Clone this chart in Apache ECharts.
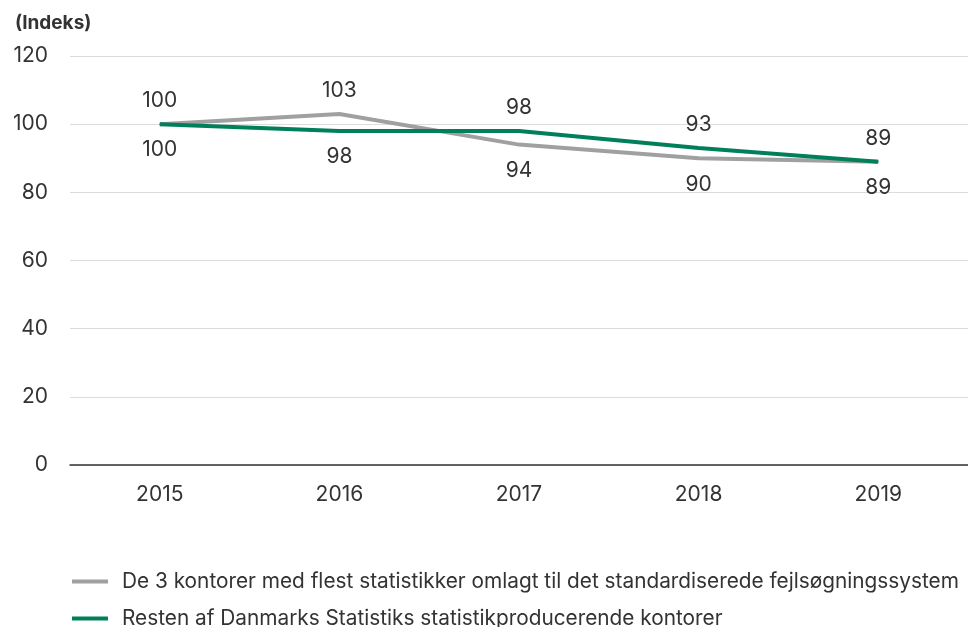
<!DOCTYPE html>
<html><head><meta charset="utf-8">
<script src="https://cdn.jsdelivr.net/npm/echarts@6/dist/echarts.min.js"></script>
<style>html,body{margin:0;padding:0;background:#fff}#c{width:968px;height:627px}</style>
</head><body><div id="c"></div>
<script>
const categories = ['2015','2016','2017','2018','2019'];
const seriesNames = ['De 3 kontorer med flest statistikker omlagt til det standardiserede fejlsøgningssystem','Resten af Danmarks Statistiks statistikproducerende kontorer'];
const grayValues = [100,103,94,90,89];
const greenValues = [100,98,98,93,89];
const grayLabelPos = ['top','top','bottom','bottom','bottom'];
const greenLabelPos = ['bottom','bottom','top','top','top'];
const yTicks = [0,20,40,60,80,100,120];

const FONT = 'Inter, "Noto Sans", sans-serif';
const GRAY = '#a0a0a0', GREEN = '#00805a';
const chart = echarts.init(document.getElementById('c'));
function mk(vals, pos){return vals.map((v,i)=>({value:v,label:{position:pos[i],distance:pos[i]==='top'?12:15}}));}
const legendBase = {orient:'horizontal',left:67,itemWidth:36,itemHeight:4,icon:'rect',
    textStyle:{fontSize:20.8,color:'#333',fontFamily:FONT,padding:[0,0,0,9]}};
chart.setOption({
  animation:false,
  textStyle:{fontFamily:FONT},
  title:{text:'(Indeks)',left:10,top:9,textStyle:{fontSize:19,fontWeight:'bold',color:'#333',fontFamily:FONT}},
  grid:{left:70,top:56,width:900,height:409,containLabel:false},
  legend:[
    Object.assign({},legendBase,{top:566,data:[seriesNames[0]]}),
    Object.assign({},legendBase,{top:603,data:[seriesNames[1]]})
  ],
  xAxis:{type:'category',data:categories,boundaryGap:true,
    axisLine:{lineStyle:{color:'#333',width:1.5}},axisTick:{show:false},
    axisLabel:{fontSize:21,color:'#333',margin:19,fontFamily:FONT}},
  yAxis:{type:'value',min:yTicks[0],max:yTicks[yTicks.length-1],interval:20,
    axisLine:{show:false},axisTick:{show:false},
    splitLine:{lineStyle:{color:'#dcdcdc',width:1}},
    axisLabel:{fontSize:21,color:'#333',margin:22,fontFamily:FONT}},
  series:[
    {name:seriesNames[0],type:'line',data:mk(grayValues,grayLabelPos),symbol:'circle',symbolSize:1,showSymbol:true,
     lineStyle:{color:GRAY,width:4},itemStyle:{color:GRAY},
     label:{show:true,fontSize:21,color:'#333',fontFamily:FONT}},
    {name:seriesNames[1],type:'line',data:mk(greenValues,greenLabelPos),symbol:'circle',symbolSize:1,showSymbol:true,
     lineStyle:{color:GREEN,width:4},itemStyle:{color:GREEN},
     label:{show:true,fontSize:21,color:'#333',fontFamily:FONT}}
  ]
});
</script></body></html>
